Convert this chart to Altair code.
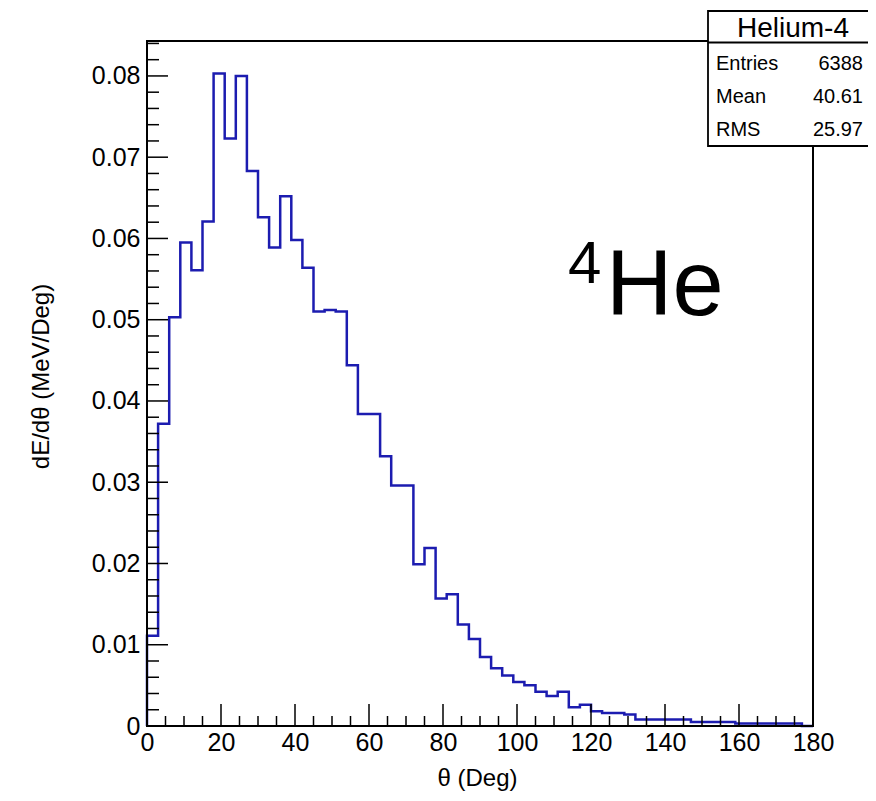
import altair as alt
import pandas as pd

# ---------------- data ----------------
bin_width = 3  # degrees per bin, 60 bins over 0..180
values = [
    0.0111, 0.0372, 0.0503, 0.0595, 0.0561, 0.0621, 0.0803, 0.0723, 0.0800, 0.0683,
    0.0626, 0.0589, 0.0652, 0.0598, 0.0564, 0.0510, 0.0512, 0.0510, 0.0444, 0.0384,
    0.0384, 0.0332, 0.0296, 0.0296, 0.0199, 0.0219, 0.0157, 0.0162, 0.0125, 0.0107,
    0.0085, 0.0071, 0.0062, 0.0054, 0.0050, 0.0042, 0.0037, 0.0042, 0.0023, 0.0026,
    0.0018, 0.0016, 0.0016, 0.0014, 0.0008, 0.0008, 0.0008, 0.0008, 0.0008, 0.0005,
    0.0005, 0.0005, 0.0005, 0.0003, 0.0003, 0.0003, 0.0003, 0.0003, 0.0003, 0.0,
]
x_major = list(range(0, 181, 20))
x_minor = [v for v in range(0, 181, 5) if v % 20]
y_major = [round(0.01 * i, 3) for i in range(0, 9)]
y_minor = [round(0.002 * i, 3) for i in range(0, 43) if i % 5]
stats_title = "Helium-4"
stats_labels = ["Entries", "Mean", "RMS"]
stats_values = ["6388", "40.61", "25.97"]
x_title = "θ (Deg)"
y_title = "dE/dθ (MeV/Deg)"

# ---------------- layout ----------------
W, H = 666, 685
FONT = "Liberation Sans"
xdom = [0, 180]
ydom = [0, 0.0843]
xs = alt.Scale(domain=xdom, nice=False, zero=False)
ys = alt.Scale(domain=ydom, nice=False, zero=False)

xaxis = alt.Axis(
    values=x_major, ticks=False, domain=False, grid=False,
    labelFont=FONT, labelFontSize=25, labelColor="black", labelPadding=4,
    title=x_title, titleFont=FONT, titleFontSize=24, titleFontWeight="normal",
    titleColor="black", titleX=330, titleY=52, titleAlign="center",
    titleBaseline="middle", labelFlush=False,
)
yaxis = alt.Axis(
    values=y_major, ticks=False, domain=False, grid=False,
    labelFont=FONT, labelFontSize=25, labelColor="black", labelPadding=7,
    labelExpr="datum.value == 0 ? '0' : format(datum.value, '.2f')",
    title=y_title, titleFont=FONT, titleFontSize=24, titleFontWeight="normal",
    titleColor="black", titleX=-106, titleY=335, titleAngle=270,
    titleAlign="center", titleBaseline="middle", labelFlush=False,
)

edges = [i * bin_width for i in range(len(values) + 1)]
hist = pd.DataFrame({
    "theta": [0] + edges,
    "dE": [0] + values + [values[-1]],
    "order": list(range(len(values) + 2)),
})

line = alt.Chart(hist).mark_line(
    interpolate="step-after", color="#1c1cb0", strokeWidth=2.5
).encode(
    x=alt.X("theta:Q", scale=xs, axis=xaxis),
    y=alt.Y("dE:Q", scale=ys, axis=yaxis),
    order="order:Q",
)

def yticks(vals, length):
    return alt.Chart(pd.DataFrame({"dE": vals})).mark_rule(
        color="black", strokeWidth=1.5
    ).encode(y=alt.Y("dE:Q", scale=ys, axis=yaxis), x=alt.value(0), x2=alt.value(length))

def xticks(vals, length):
    return alt.Chart(pd.DataFrame({"theta": vals})).mark_rule(
        color="black", strokeWidth=1.5
    ).encode(x=alt.X("theta:Q", scale=xs, axis=xaxis), y=alt.value(H), y2=alt.value(H - length))

one = pd.DataFrame({"a": [0]})
frame = alt.Chart(one).mark_rect(fill="transparent", stroke="black", strokeWidth=2).encode(
    x=alt.value(0), x2=alt.value(W), y=alt.value(0), y2=alt.value(H)
)

box = alt.Chart(one).mark_rect(fill="white", stroke="black", strokeWidth=1.8).encode(
    x=alt.value(561), x2=alt.value(740), y=alt.value(-30), y2=alt.value(105)
)
divider = alt.Chart(one).mark_rule(color="black", strokeWidth=1.8).encode(
    x=alt.value(561), x2=alt.value(740), y=alt.value(1.5)
)

texts = [
    alt.Chart(one).mark_text(font=FONT, fontSize=28, align="center", baseline="alphabetic", color="black")
    .encode(x=alt.value(646), y=alt.value(-4), text=alt.value(stats_title))
]
rows_y = [29, 62, 95]
for lab, val, yy in zip(stats_labels, stats_values, rows_y):
    texts.append(alt.Chart(one).mark_text(font=FONT, fontSize=20, align="left", baseline="alphabetic", color="black")
                 .encode(x=alt.value(569), y=alt.value(yy), text=alt.value(lab)))
    texts.append(alt.Chart(one).mark_text(font=FONT, fontSize=20, align="right", baseline="alphabetic", color="black")
                 .encode(x=alt.value(716), y=alt.value(yy), text=alt.value(val)))

he_sup = alt.Chart(one).mark_text(font=FONT, fontSize=60, align="left", baseline="alphabetic", color="black").encode(
    x=alt.value(421), y=alt.value(242), text=alt.value("4"))
he = alt.Chart(one).mark_text(font=FONT, fontSize=92, align="left", baseline="alphabetic", color="black").encode(
    x=alt.value(459), y=alt.value(274), text=alt.value("He"))

chart = alt.layer(
    line, yticks(y_major, 21), yticks(y_minor, 12), xticks(x_major, 22), xticks(x_minor, 10),
    frame, he_sup, he, box, divider, *texts,
).properties(
    width=W, height=H,
    autosize=alt.AutoSizeParams(type="none"),
    padding={"left": 139, "top": 33, "right": 55, "bottom": 72},
).configure_view(stroke=None).configure(background="white")

chart.save("out.html", embed_options={"renderer": "svg", "actions": False})
